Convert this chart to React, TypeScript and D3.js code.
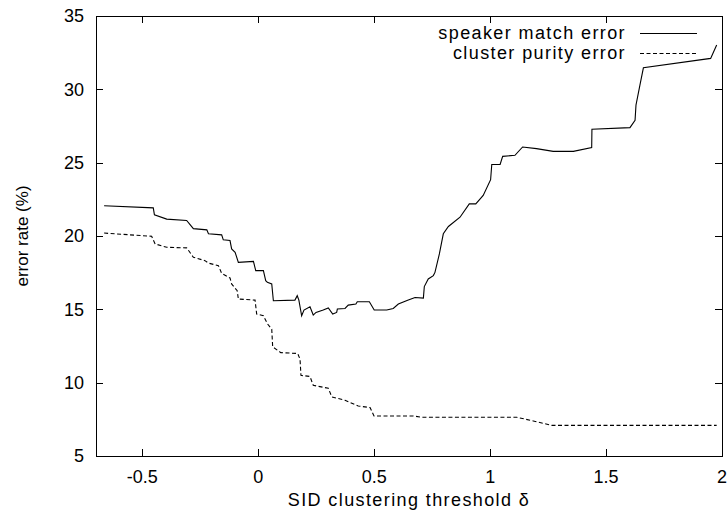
import { useEffect, useRef } from "react";
import * as d3 from "d3";

// threshold delta vs error rate (%)
const speakerMatch: [number, number][] = [
  [-0.665, 22.06], [-0.453, 21.92], [-0.448, 21.45], [-0.395, 21.15],
  [-0.309, 21.06], [-0.28, 20.5], [-0.222, 20.42], [-0.215, 20.15],
  [-0.158, 20.08], [-0.151, 19.74], [-0.122, 19.69], [-0.115, 19.12],
  [-0.1, 18.89], [-0.086, 18.2], [-0.021, 18.27], [-0.011, 17.64],
  [0.022, 17.64], [0.032, 16.95], [0.039, 16.84], [0.058, 16.73],
  [0.065, 15.59], [0.158, 15.63], [0.168, 15.93], [0.175, 15.63],
  [0.187, 14.56], [0.197, 14.95], [0.223, 15.18], [0.237, 14.61],
  [0.249, 14.79], [0.28, 14.95], [0.302, 15.09], [0.321, 14.68],
  [0.338, 14.79], [0.341, 15.02], [0.374, 15.06], [0.388, 15.29],
  [0.421, 15.36], [0.427, 15.52], [0.479, 15.52], [0.5, 14.95],
  [0.554, 14.95], [0.582, 15.06], [0.604, 15.36], [0.647, 15.63],
  [0.676, 15.81], [0.712, 15.77], [0.716, 16.55], [0.733, 17.07],
  [0.755, 17.3], [0.762, 17.52], [0.781, 18.78], [0.798, 20.15],
  [0.82, 20.65], [0.87, 21.28], [0.91, 22.19], [0.938, 22.19],
  [0.97, 22.77], [1.002, 23.84], [1.007, 24.88], [1.043, 24.88],
  [1.054, 25.43], [1.107, 25.5], [1.14, 26.07], [1.2, 25.96],
  [1.272, 25.77], [1.359, 25.77], [1.438, 26.03], [1.439, 27.28],
  [1.603, 27.39], [1.625, 27.89], [1.629, 28.92], [1.646, 30.28],
  [1.661, 31.47], [1.951, 32.11], [1.977, 33.02],
];

const clusterPurity: [number, number][] = [
  [-0.665, 20.2], [-0.46, 19.98], [-0.445, 19.46], [-0.395, 19.23],
  [-0.309, 19.19], [-0.28, 18.55], [-0.23, 18.32], [-0.215, 18.15],
  [-0.172, 17.98], [-0.158, 17.45], [-0.122, 17.14], [-0.115, 16.73],
  [-0.091, 16.27], [-0.086, 15.7], [-0.014, 15.63], [-0.007, 14.68],
  [0.022, 14.56], [0.04, 14.0], [0.058, 13.65], [0.062, 12.44],
  [0.097, 12.05], [0.17, 11.99], [0.18, 11.6], [0.184, 10.5],
  [0.223, 10.42], [0.237, 9.82], [0.302, 9.62], [0.317, 9.03],
  [0.374, 8.8], [0.431, 8.41], [0.482, 8.3], [0.499, 7.73],
  [0.669, 7.73], [0.705, 7.64], [1.115, 7.64], [1.186, 7.39],
  [1.265, 7.09], [1.977, 7.09],
];

const xTicks = [-0.5, 0, 0.5, 1, 1.5, 2];
const yTicks = [5, 10, 15, 20, 25, 30, 35];
const seriesNames = ["speaker match error", "cluster purity error"];

export default function App() {
  const svgRef = useRef<SVGSVGElement>(null);

  useEffect(() => {
    if (!svgRef.current) return;
    const svg = d3.select(svgRef.current);
    svg.selectAll("*").remove();

    const width = 727;
    const height = 523;
    const margin = { top: 16, right: 5, bottom: 67, left: 96 };
    const innerW = width - margin.left - margin.right;
    const innerH = height - margin.top - margin.bottom;
    const font = "'Liberation Sans', Arial, Helvetica, sans-serif";
    const fs = 18;
    const tick = 7;
    const spacing = 1.4; // gnuplot's text runs a bit looser than Arial

    svg.attr("viewBox", `0 0 ${width} ${height}`);
    svg.append("rect").attr("width", width).attr("height", height).attr("fill", "#fff");

    const g = svg
      .append("g")
      .attr("transform", `translate(${margin.left},${margin.top})`);

    const x = d3.scaleLinear().domain([-0.7, 2]).range([0, innerW]);
    const y = d3.scaleLinear().domain([5, 35]).range([innerH, 0]);

    // ticks, inward on all four sides
    const tk = g.append("g").attr("stroke", "#000").attr("stroke-width", 1);
    xTicks.forEach((t) => {
      const px = Math.round(x(t)) + 0.5;
      tk.append("line").attr("x1", px).attr("x2", px).attr("y1", innerH).attr("y2", innerH - tick);
      tk.append("line").attr("x1", px).attr("x2", px).attr("y1", 0).attr("y2", tick);
    });
    yTicks.forEach((t) => {
      const py = Math.round(y(t)) + 0.5;
      tk.append("line").attr("x1", 0).attr("x2", tick).attr("y1", py).attr("y2", py);
      tk.append("line").attr("x1", innerW).attr("x2", innerW - tick).attr("y1", py).attr("y2", py);
    });

    // tick labels
    g.selectAll("text.xt")
      .data(xTicks)
      .join("text")
      .attr("x", (d) => x(d))
      .attr("y", innerH + 21)
      .attr("dy", "0.35em")
      .attr("text-anchor", "middle")
      .attr("font-family", font)
      .attr("font-size", fs)
      .text((d) => String(d));

    g.selectAll("text.yt")
      .data(yTicks)
      .join("text")
      .attr("x", -12)
      .attr("y", (d) => y(d))
      .attr("dy", "0.35em")
      .attr("text-anchor", "end")
      .attr("font-family", font)
      .attr("font-size", fs)
      .text((d) => String(d));

    // border
    g.append("rect")
      .attr("x", 0.5)
      .attr("y", 0.5)
      .attr("width", innerW)
      .attr("height", innerH)
      .attr("fill", "none")
      .attr("stroke", "#000");

    const line = d3
      .line<[number, number]>()
      .x((d) => x(d[0]))
      .y((d) => y(d[1]));

    g.append("path")
      .datum(speakerMatch)
      .attr("d", line)
      .attr("fill", "none")
      .attr("stroke", "#000")
      .attr("stroke-width", 1.1);

    g.append("path")
      .datum(clusterPurity)
      .attr("d", line)
      .attr("fill", "none")
      .attr("stroke", "#000")
      .attr("stroke-width", 1.1)
      .attr("stroke-dasharray", "4,2.5");

    // legend
    const dashes = [null, "4,2.5"];
    seriesNames.forEach((name, i) => {
      const ly = 33 + i * 20;
      svg
        .append("text")
        .attr("x", 626)
        .attr("y", ly)
        .attr("dy", "0.35em")
        .attr("text-anchor", "end")
        .attr("font-family", font)
        .attr("font-size", fs)
        .attr("letter-spacing", spacing)
        .text(name);
      svg
        .append("line")
        .attr("x1", 640)
        .attr("x2", 697)
        .attr("y1", ly + 0.5)
        .attr("y2", ly + 0.5)
        .attr("stroke", "#000")
        .attr("stroke-dasharray", dashes[i]);
    });

    // axis labels
    svg
      .append("text")
      .attr("x", margin.left + innerW / 2)
      .attr("y", 500)
      .attr("dy", "0.35em")
      .attr("text-anchor", "middle")
      .attr("font-family", font)
      .attr("font-size", fs)
      .attr("letter-spacing", spacing)
      .text("SID clustering threshold δ");

    svg
      .append("text")
      .attr("transform", `translate(22,${margin.top + innerH / 2}) rotate(-90)`)
      .attr("dy", "0.35em")
      .attr("text-anchor", "middle")
      .attr("font-family", font)
      .attr("font-size", 17)
      .text("error rate (%)");
  }, []);

  return (
    <svg
      ref={svgRef}
      width={727}
      height={523}
      style={{ position: "absolute", left: 0, top: 0, display: "block" }}
    />
  );
}
